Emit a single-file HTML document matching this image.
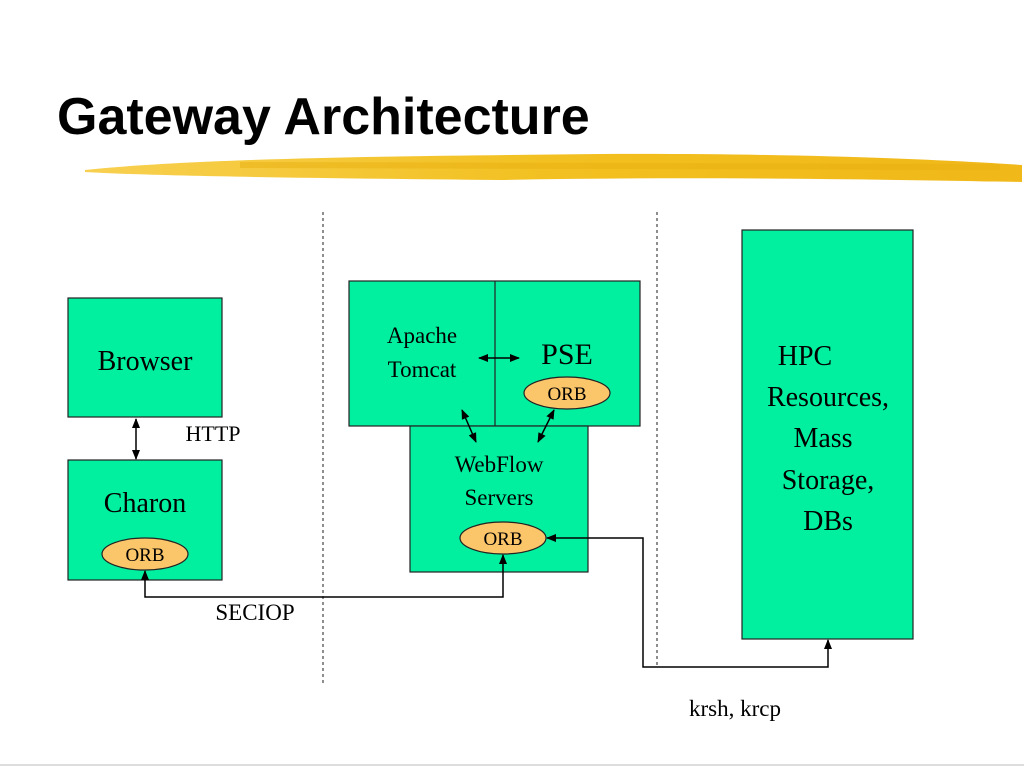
<!DOCTYPE html>
<html><head><meta charset="utf-8"><style>
html,body{margin:0;padding:0;background:#fff;width:1024px;height:768px;overflow:hidden}
</style></head><body>
<svg width="1024" height="768" viewBox="0 0 1024 768" xmlns="http://www.w3.org/2000/svg">
<defs>
<marker id="a" markerWidth="10" markerHeight="10" refX="9" refY="5" orient="auto-start-reverse" markerUnits="userSpaceOnUse">
<path d="M0,1 L10,5 L0,9 z" fill="#000"/></marker>
<linearGradient id="y" x1="0" x2="1" y1="0" y2="0">
<stop offset="0" stop-color="#f8d050"/><stop offset="0.5" stop-color="#f2c020"/><stop offset="1" stop-color="#f0b818"/></linearGradient>
</defs>
<text x="57" y="134" font-family="Liberation Sans, sans-serif" font-weight="bold" font-size="52">Gateway Architecture</text>
<path d="M85,170 C200,158 400,156 600,154 C800,153 950,160 1022,165 L1022,182 C900,180 700,176 500,180 C300,178 150,176 85,172 z" fill="url(#y)"/>
<path d="M240,162 L1000,164 L1000,170 L240,168z" fill="#e8b010" opacity="0.5"/>
<g stroke="#444" stroke-width="1.2" stroke-dasharray="3,3">
<line x1="323" y1="212" x2="323" y2="683"/><line x1="657" y1="212" x2="657" y2="668"/></g>
<g fill="#00f0a0" stroke="#222" stroke-width="1.2">
<rect x="68" y="298" width="154" height="119"/>
<rect x="68" y="460" width="154" height="120"/>
<rect x="349" y="281" width="291" height="145"/>
<rect x="410" y="426" width="178" height="146"/>
<rect x="742" y="230" width="171" height="409"/>
</g>
<line x1="495" y1="281" x2="495" y2="426" stroke="#222" stroke-width="1.2"/>
<g fill="#fbc66a" stroke="#222" stroke-width="1.2">
<ellipse cx="145" cy="554" rx="43" ry="16"/>
<ellipse cx="567" cy="393" rx="43" ry="16"/>
<ellipse cx="503" cy="538" rx="43" ry="16"/>
</g>
<g stroke="#000" stroke-width="1.5" fill="none">
<line x1="136" y1="419" x2="136" y2="459" marker-start="url(#a)" marker-end="url(#a)"/>
<line x1="479" y1="358" x2="519" y2="358" marker-start="url(#a)" marker-end="url(#a)"/>
<line x1="462" y1="410" x2="476" y2="442" marker-start="url(#a)" marker-end="url(#a)"/>
<line x1="554" y1="410" x2="538" y2="442" marker-start="url(#a)" marker-end="url(#a)"/>
<polyline points="145,571 145,597 503,597 503,555" marker-start="url(#a)" marker-end="url(#a)"/>
<polyline points="547,538 643,538 643,667 828,667 828,640" marker-start="url(#a)" marker-end="url(#a)"/>
</g>
<g font-family="Liberation Serif, serif" fill="#000" text-anchor="middle">
<text x="145" y="370" font-size="28">Browser</text>
<text x="145" y="512" font-size="28">Charon</text>
<text x="145" y="561" font-size="19">ORB</text>
<text x="213" y="441" font-size="22">HTTP</text>
<text x="422" y="343" font-size="23">Apache</text>
<text x="422" y="377" font-size="23">Tomcat</text>
<text x="567" y="364" font-size="30">PSE</text>
<text x="567" y="400" font-size="19">ORB</text>
<text x="499" y="472" font-size="23">WebFlow</text>
<text x="499" y="505" font-size="23">Servers</text>
<text x="503" y="545" font-size="19">ORB</text>
<text x="255" y="620" font-size="23">SECIOP</text>
<text x="805" y="365" font-size="28">HPC</text>
<text x="828" y="406" font-size="28">Resources,</text>
<text x="823" y="447" font-size="28">Mass</text>
<text x="828" y="489" font-size="28">Storage,</text>
<text x="828" y="530" font-size="28">DBs</text>
<text x="735" y="716" font-size="23">krsh, krcp</text>
</g>
<line x1="0" y1="765" x2="1024" y2="765" stroke="#ddd" stroke-width="2"/>
</svg>
</body></html>
